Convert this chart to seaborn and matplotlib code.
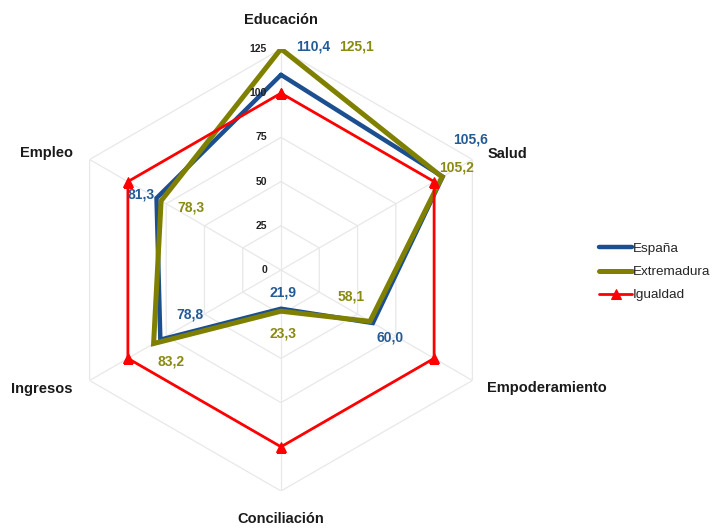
import numpy as np
import pandas as pd
import matplotlib
matplotlib.use("Agg")
import matplotlib.pyplot as plt
import seaborn as sns

categories = ["Educación", "Salud", "Empoderamiento", "Conciliación", "Ingresos", "Empleo"]
espana = [110.4, 105.6, 60.0, 21.9, 78.8, 81.3]
extremadura = [125.1, 105.2, 58.1, 23.3, 83.2, 78.3]
igualdad = [100, 100, 100, 100, 100, 100]
radial_ticks = [0, 25, 50, 75, 100, 125]

sns.set_theme(style="white")
plt.rcParams["font.family"] = ["Liberation Sans", "DejaVu Sans"]

n = len(categories)
angles = np.arange(n) * 2 * np.pi / n
closed = np.append(angles, 2 * np.pi)

def closed_frame(values, name):
    return pd.DataFrame({"theta": closed, "value": list(values) + [values[0]], "serie": name})

fig = plt.figure(figsize=(7.13, 5.28), dpi=100)
ax = fig.add_axes([60 / 713, 37 / 528, 442 / 713, 442 / 528], projection="polar")
ax.set_theta_offset(np.pi / 2)
ax.set_theta_direction(-1)
ax.set_ylim(0, 125)
ax.grid(False)
ax.spines["polar"].set_visible(False)
ax.set_xticks([])
ax.set_yticks([])

# hexagonal grid rings and spokes
grid_col = "#e8e8e8"
for lvl in radial_ticks[1:]:
    ax.plot(closed, [lvl] * (n + 1), color=grid_col, lw=0.9, zorder=0)
for a in angles:
    ax.plot([a, a], [0, 125], color=grid_col, lw=0.9, zorder=0)

c_es = "#1c4f8f"
c_ex = "#808000"
c_ig = "#ff0000"

sns.lineplot(data=closed_frame(espana, "España"), x="theta", y="value", sort=False,
             estimator=None, color=c_es, lw=3.2, ax=ax, label="España", zorder=3,
             solid_joinstyle="miter")
sns.lineplot(data=closed_frame(extremadura, "Extremadura"), x="theta", y="value", sort=False,
             estimator=None, color=c_ex, lw=3.6, ax=ax, label="Extremadura", zorder=4,
             solid_joinstyle="miter")
ig = closed_frame(igualdad, "Igualdad")
sns.lineplot(data=ig, x="theta", y="value", sort=False, estimator=None, color=c_ig,
             lw=2.0, marker="^", markersize=7, markeredgecolor=c_ig, ax=ax,
             label="Igualdad", zorder=5, solid_joinstyle="miter")
ax.set_xlabel("")
ax.set_ylabel("")

# radial tick labels
for t in radial_ticks:
    ax.annotate(str(t), xy=(0, t), xytext=(-14, 0), textcoords="offset pixels",
                ha="right", va="center", fontsize=7.5, fontweight="bold", color="#222222",
                annotation_clip=False, zorder=6)

# category labels
cat_offsets = [(0, 29, "center"), (15, 6, "left"), (15, -8, "left"),
               (0, -28, "center"), (-17, -8, "right"), (-17, 6, "right")]
for a, name, (dx, dy, ha) in zip(angles, categories, cat_offsets):
    ax.annotate(name, xy=(a, 125), xytext=(dx, dy), textcoords="offset pixels",
                ha=ha, va="center", fontsize=10.5, fontweight="bold", color="#1a1a1a",
                annotation_clip=False)

# value labels
es_off = [(32, 28), (28, 37), (17, -14), (2, 16), (30, 25), (-15, 4)]
ex_off = [(75, 2), (14, 10), (-19, 25), (2, -22), (17, -18), (30, -7)]
lab_es = "#245a96"
lab_ex = "#8a8a12"
for a, v, (dx, dy) in zip(angles, espana, es_off):
    ax.annotate(f"{v:.1f}".replace(".", ","), xy=(a, v), xytext=(dx, dy),
                textcoords="offset pixels", ha="center", va="center",
                fontsize=10, fontweight="bold", color=lab_es, annotation_clip=False, zorder=7)
for a, v, (dx, dy) in zip(angles, extremadura, ex_off):
    ax.annotate(f"{v:.1f}".replace(".", ","), xy=(a, v), xytext=(dx, dy),
                textcoords="offset pixels", ha="center", va="center",
                fontsize=10, fontweight="bold", color=lab_ex, annotation_clip=False, zorder=7)

handles, labels = ax.get_legend_handles_labels()
ax.get_legend().remove()
fig.legend(handles, labels, loc="center left", bbox_to_anchor=(594 / 713, 1 - 272 / 528),
           frameon=False, fontsize=9.7, handlelength=2.4, handletextpad=0.1,
           labelspacing=0.8, borderaxespad=0)

fig.savefig("out.png", dpi=100)
